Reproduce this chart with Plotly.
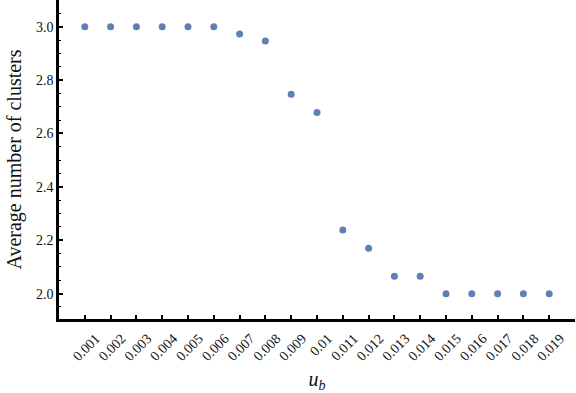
import plotly.graph_objects as go

# data
u_b = [0.001, 0.002, 0.003, 0.004, 0.005, 0.006, 0.007, 0.008, 0.009, 0.010,
       0.011, 0.012, 0.013, 0.014, 0.015, 0.016, 0.017, 0.018, 0.019]
avg_clusters = [3.0, 3.0, 3.0, 3.0, 3.0, 3.0, 2.973, 2.946, 2.747, 2.679,
                2.238, 2.170, 2.065, 2.065, 2.0, 2.0, 2.0, 2.0, 2.0]
x_tick_labels = ["0.001", "0.002", "0.003", "0.004", "0.005", "0.006", "0.007",
                 "0.008", "0.009", "0.01", "0.011", "0.012", "0.013", "0.014",
                 "0.015", "0.016", "0.017", "0.018", "0.019"]
y_tick_vals = [2.0, 2.2, 2.4, 2.6, 2.8, 3.0]
y_tick_labels = ["2.0", "2.2", "2.4", "2.6", "2.8", "3.0"]

SERIF = "Liberation Serif, Times New Roman, serif"
POINT_COLOR = "#5E81B5"

fig = go.Figure(
    go.Scatter(
        x=u_b, y=avg_clusters, mode="markers",
        marker=dict(color=POINT_COLOR, size=7, line=dict(width=0)),
    )
)

fig.update_layout(
    width=576, height=393,
    margin=dict(l=59, r=1, t=0, b=74),
    plot_bgcolor="white", paper_bgcolor="white",
    showlegend=False,
    font=dict(family=SERIF, color="#111111"),
)

fig.update_xaxes(
    range=[0.0, 0.0200], showgrid=False, zeroline=False, automargin=False,
    showline=True, linecolor="black", linewidth=2.5,
    ticks="inside", ticklen=4, tickwidth=1.5, tickcolor="black",
    tickvals=u_b, ticktext=x_tick_labels, tickangle=-45,
    ticklabelshift=11, ticklabelstandoff=3,
    tickfont=dict(size=14, family=SERIF),
    title=dict(text="<i>u</i><sub><i>b</i></sub>",
               font=dict(size=20, family=SERIF), standoff=14),
)

fig.update_yaxes(
    range=[1.905, 3.1], showgrid=False, zeroline=False, automargin=False,
    showline=True, linecolor="black", linewidth=2.5,
    ticks="inside", ticklen=4, tickwidth=1.5, tickcolor="black",
    tickvals=y_tick_vals, ticktext=y_tick_labels,
    tickfont=dict(size=14, family=SERIF),
    minor=dict(dtick=0.05, tick0=0, ticks="inside", ticklen=2.5,
               tickwidth=1, tickcolor="black"),
    title=dict(text="Average number of clusters",
               font=dict(size=20, family=SERIF), standoff=9),
)

# the page's default 8px body margin would push the figure off the window
fig.write_html(
    "out.html",
    config={"displayModeBar": False},
    post_script="document.body.style.margin = '0';",
)
